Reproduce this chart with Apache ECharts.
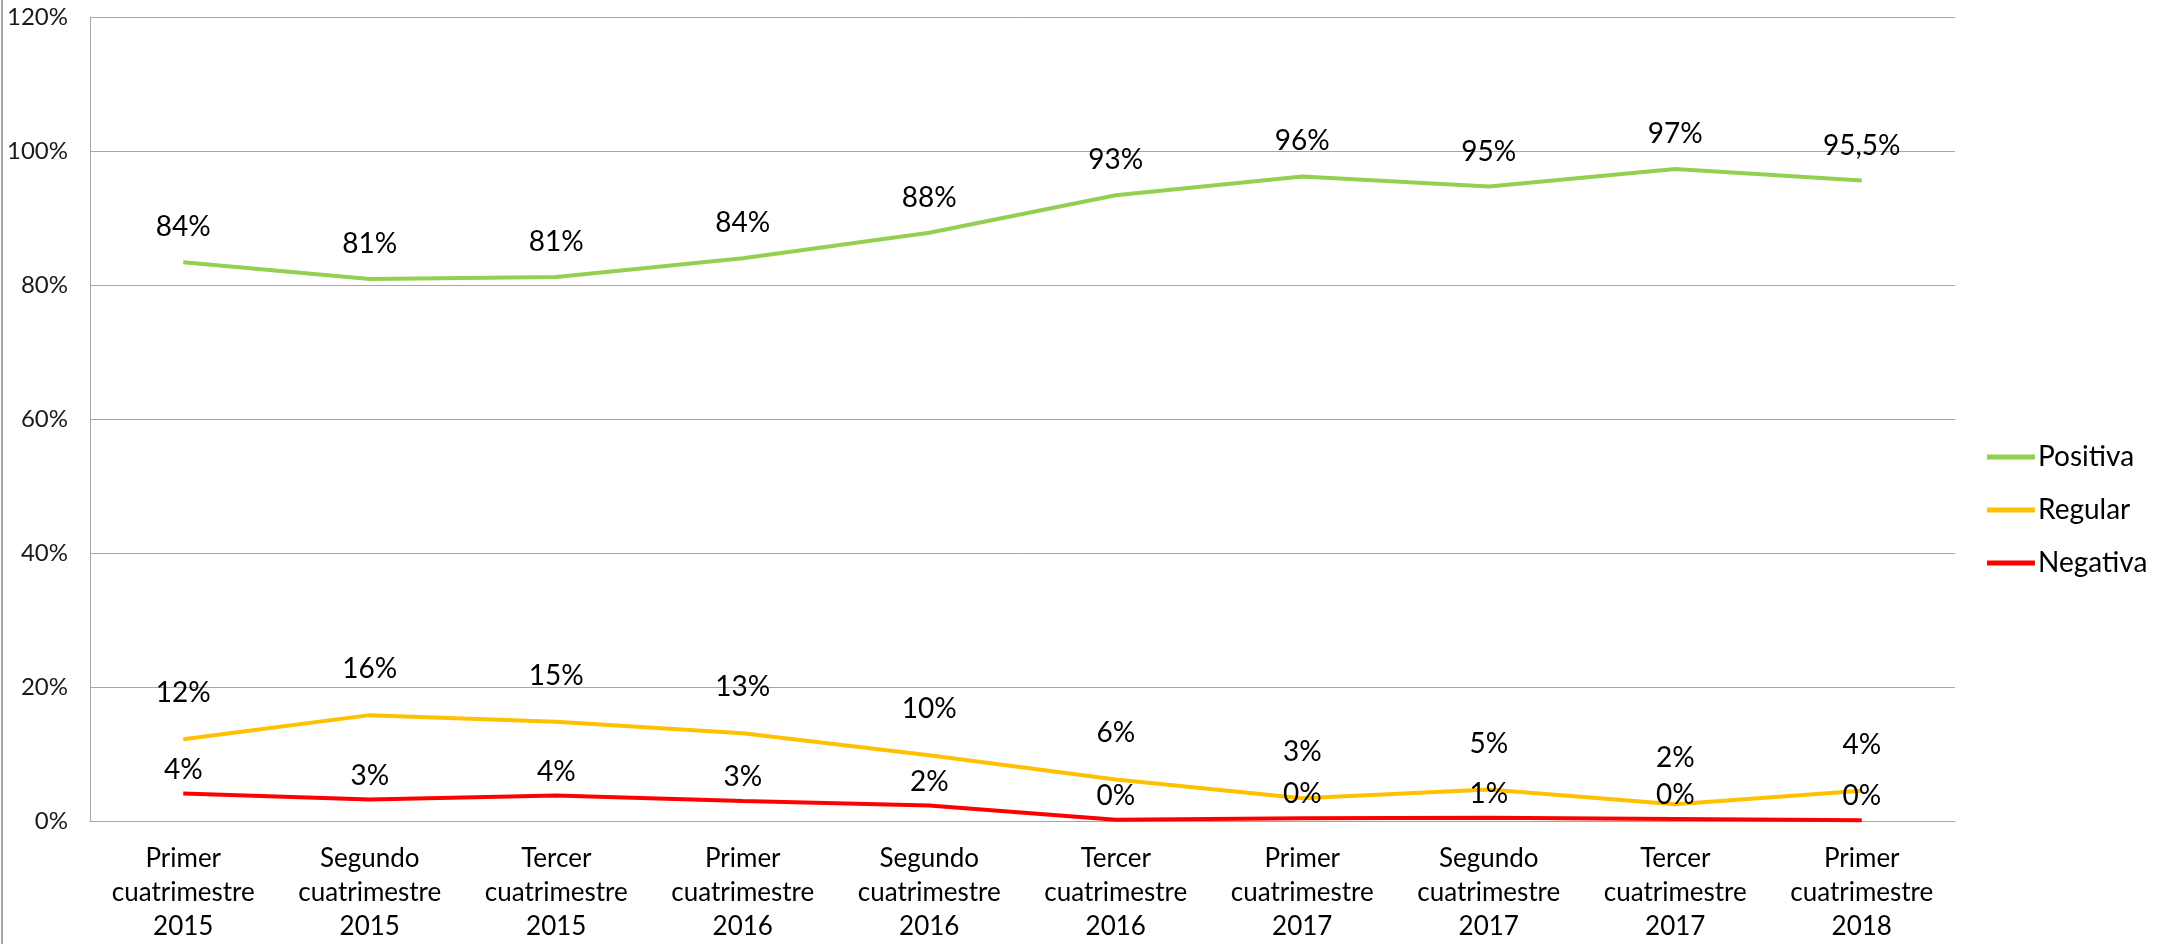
<!DOCTYPE html>
<html>
<head>
<meta charset="utf-8">
<title>Valoración por cuatrimestre</title>
<script src="https://cdn.jsdelivr.net/npm/echarts@6/dist/echarts.min.js"></script>
<style>
  html, body { margin: 0; padding: 0; background: #fff; }
  #chart { width: 2164px; height: 944px; }
</style>
</head>
<body>
<div id="chart"></div>
<script>
// periodos (eje x)
var categories = [
  "Primer\ncuatrimestre\n2015", "Segundo\ncuatrimestre\n2015", "Tercer\ncuatrimestre\n2015",
  "Primer\ncuatrimestre\n2016", "Segundo\ncuatrimestre\n2016", "Tercer\ncuatrimestre\n2016",
  "Primer\ncuatrimestre\n2017", "Segundo\ncuatrimestre\n2017", "Tercer\ncuatrimestre\n2017",
  "Primer\ncuatrimestre\n2018"
];
// valores (%)
var positiva = [83.4, 80.9, 81.2, 84.0, 87.8, 93.4, 96.2, 94.7, 97.3, 95.6];
var regular = [12.2, 15.8, 14.8, 13.1, 9.8, 6.2, 3.4, 4.7, 2.5, 4.5];
var negativa = [4.1, 3.2, 3.8, 3.0, 2.3, 0.2, 0.4, 0.5, 0.3, 0.1];
// etiquetas tal como aparecen
var positivaLabels = ["84%", "81%", "81%", "84%", "88%", "93%", "96%", "95%", "97%", "95,5%"];
var regularLabels = ["12%", "16%", "15%", "13%", "10%", "6%", "3%", "5%", "2%", "4%"];
var negativaLabels = ["4%", "3%", "4%", "3%", "2%", "0%", "0%", "1%", "0%", "0%"];
var yTicks = [0, 20, 40, 60, 80, 100, 120];

var font = "Lato, 'DejaVu Sans', sans-serif";

function serie(name, values, labels, color, dist) {
  return {
    name: name,
    type: "line",
    data: values,
    symbol: "circle",
    symbolSize: 0,
    showSymbol: true,
    lineStyle: { color: color, width: 4 },
    itemStyle: { color: color },
    label: {
      show: true,
      position: "top",
      distance: dist,
      color: "#000",
      fontFamily: font,
      fontSize: 28,
      formatter: function (p) { return labels[p.dataIndex]; }
    },
    labelLayout: { hideOverlap: false },
    z: 3
  };
}

var myChart = echarts.init(document.getElementById("chart"));
var option = {
  animation: false,
  backgroundColor: "#fff",
  grid: { left: 90, right: 209, top: 17, bottom: 120 },
  legend: {
    orient: "vertical",
    left: 1982,
    top: 438,
    itemWidth: 48,
    itemHeight: 5,
    itemGap: 25,
    icon: "rect",
    textStyle: { fontFamily: font, fontSize: 28, color: "#000", padding: [0, 0, 0, -2] },
    data: ["Positiva", "Regular", "Negativa"]
  },
  xAxis: {
    type: "category",
    data: categories,
    boundaryGap: true,
    axisLine: { lineStyle: { color: "#A6A6A6", width: 1 } },
    axisTick: { show: false },
    axisLabel: {
      interval: 0,
      margin: 21,
      color: "#000",
      fontFamily: font,
      fontSize: 26,
      lineHeight: 34
    }
  },
  yAxis: {
    type: "value",
    min: yTicks[0],
    max: yTicks[yTicks.length - 1],
    interval: 20,
    axisLine: { show: true, lineStyle: { color: "#A6A6A6", width: 1 } },
    axisTick: { show: false },
    splitLine: { lineStyle: { color: "#A6A6A6", width: 1 } },
    axisLabel: {
      margin: 22,
      color: "#1a1a1a",
      fontFamily: font,
      fontSize: 24,
      formatter: "{value}%"
    }
  },
  graphic: [
    { type: "rect", left: 1, top: 0, shape: { width: 2, height: 944 }, style: { fill: "#A6A6A6" } }
  ],
  series: [
    serie("Positiva", positiva, positivaLabels, "#92D050", 21),
    serie("Regular", regular, regularLabels, "#FFC000", 32),
    serie("Negativa", negativa, negativaLabels, "#FF0000", 10)
  ]
};
myChart.setOption(option);
window.addEventListener("resize", function () { myChart.resize(); });
</script>
</body>
</html>
